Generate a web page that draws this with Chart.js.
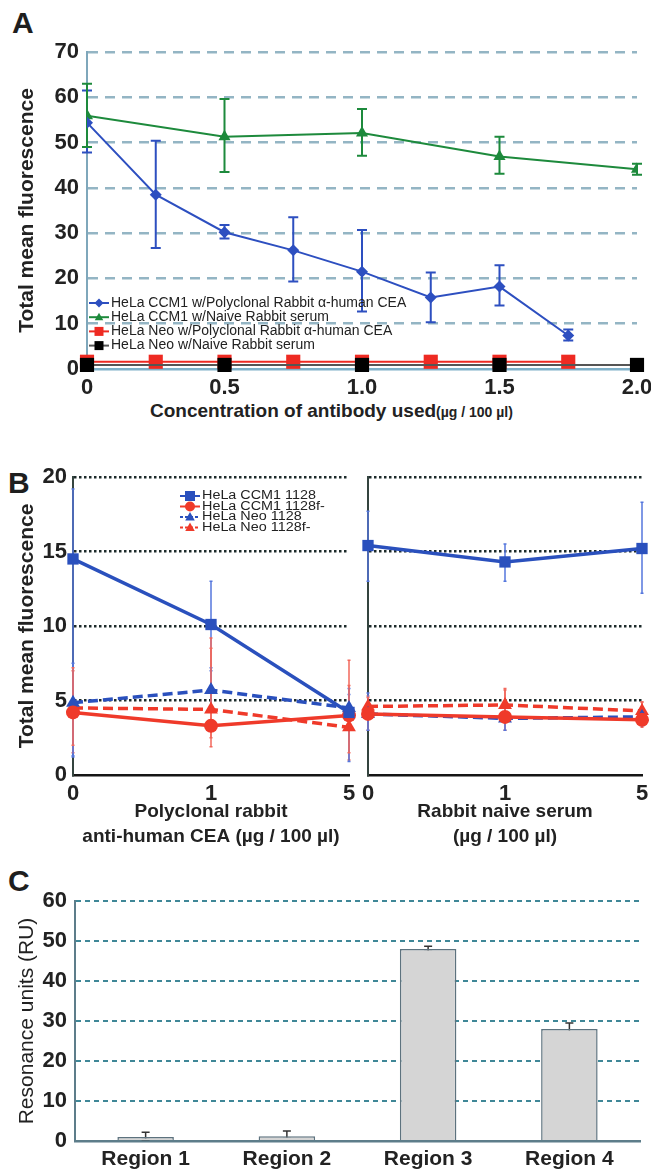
<!doctype html>
<html>
<head>
<meta charset="utf-8">
<style>
* { box-sizing: border-box; margin: 0; padding: 0; }
body { width: 651px; height: 1169px; position: relative; background: #fff; overflow: hidden;
       font-family: "Liberation Sans", Arial, sans-serif; color: #1e1e1e; }
.box { position: absolute; }
.tag { position: absolute; font-weight: bold; font-size: 30px; line-height: 1; }
#xa { position: absolute; left: 150px; top: 400px; font-weight: bold; font-size: 19px; white-space: nowrap; color: #222; }
#xa small { font-size: 14px; }
</style>
</head>
<body>
<div class="tag" style="left:12px;top:8px">A</div>
<div class="tag" style="left:8px;top:468px">B</div>
<div class="tag" style="left:8px;top:866px">C</div>

<div class="box" style="left:0;top:0;width:651px;height:400px"><canvas id="chartA"></canvas></div>
<div id="xa">Concentration of antibody used<small>(µg / 100 µl)</small></div>
<div class="box" style="left:0;top:440px;width:360px;height:420px"><canvas id="chartB1"></canvas></div>
<div class="box" style="left:360px;top:440px;width:291px;height:420px"><canvas id="chartB2"></canvas></div>
<div class="box" style="left:0;top:870px;width:651px;height:299px"><canvas id="chartC"></canvas></div>

<script src="https://cdn.jsdelivr.net/npm/chart.js"></script>
<script>
// ---- panel A ----
const a_labels = [
    'HeLa CCM1 w/Polyclonal Rabbit α-human CEA',
    'HeLa CCM1 w/Naive Rabbit serum',
    'HeLa Neo w/Polyclonal Rabbit α-human CEA',
    'HeLa Neo w/Naive Rabbit serum',
]
const a_x_quarter = [0, 0.25, 0.5, 0.75, 1.0, 1.25, 1.5, 1.75]
const a_x_half = [0, 0.5, 1.0, 1.5, 2.0]
const a_ccm1_pab = [54.4, 38.5, 30.2, 26.2, 21.5, 15.8, 18.2, 7.4]
const a_ccm1_pab_lo = [47.8, 26.7, 28.8, 19.3, 12.7, 10.3, 14.0, 6.3]
const a_ccm1_pab_hi = [61.5, 50.4, 31.8, 33.5, 30.7, 21.3, 22.9, 8.7]
const a_ccm1_naive = [55.9, 51.3, 52.1, 46.9, 44.1]
const a_ccm1_naive_lo = [49.0, 43.5, 47.1, 43.1, 42.9]
const a_ccm1_naive_hi = [63.0, 59.6, 57.4, 51.3, 45.3]
const a_neo_pab = [1.6, 1.6, 1.6, 1.6, 1.6, 1.6, 1.6, 1.6]
const a_neo_naive = [0.9, 0.9, 0.9, 0.9, 0.9]
const a_yticks = [0, 10, 20, 30, 40, 50, 60, 70]

// ---- panel B ----
const b_doses = ['0', '1', '5']
const b_labels = ['HeLa CCM1 1128', 'HeLa CCM1 1128f-', 'HeLa Neo 1128', 'HeLa Neo 1128f-']
// left: polyclonal anti-CEA, right: naive serum
const b_ccm1 = [14.5, 10.1, 4.2],      b_ccm1_n = [15.4, 14.3, 15.2]
const b_ccm1_lo = [1.3, 7.0, 3.2],     b_ccm1_n_lo = [13.0, 13.0, 12.2]
const b_ccm1_hi = [19.2, 13.0, 5.4],   b_ccm1_n_hi = [17.7, 15.5, 18.3]
const b_ccm1f = [4.2, 3.3, 4.0],       b_ccm1f_n = [4.1, 3.9, 3.7]
const b_ccm1f_lo = [1.5, 1.9, 1.0],    b_ccm1f_n_lo = [3.0, 3.0, 3.2]
const b_ccm1f_hi = [7.0, 8.5, 7.7],    b_ccm1f_n_hi = [5.3, 5.7, 4.9]
const b_neo = [4.85, 5.7, 4.5],        b_neo_n = [4.1, 3.8, 3.9]
const b_neo_lo = [1.2, 4.5, 0.9],      b_neo_n_lo = [3.0, 3.0, 3.3]
const b_neo_hi = [7.5, 7.2, 5.8],      b_neo_n_hi = [5.5, 4.6, 4.5]
const b_neof = [4.5, 4.4, 3.2],        b_neof_n = [4.6, 4.7, 4.3]
const b_neof_lo = [2.0, 2.5, 1.5],     b_neof_n_lo = [3.8, 3.5, 3.6]
const b_neof_hi = [7.2, 9.2, 6.0],     b_neof_n_hi = [5.2, 5.8, 4.9]

// ---- panel C ----
const c_regions = ['Region 1', 'Region 2', 'Region 3', 'Region 4']
const c_ru = [1.0, 1.2, 48.0, 28.0]
const c_ru_lo = [0.4, 0.6, 47.4, 26.6]
const c_ru_hi = [2.2, 2.5, 48.7, 29.5]

const FONT = '"Liberation Sans", Arial, sans-serif'
Chart.defaults.font.family = FONT
Chart.defaults.color = '#1e1e1e'

// vertical error bars read from dataset.errLo / dataset.errHi
const errorBars = {
    id: 'errorBars',
    beforeDatasetsDraw(chart) {
        const ctx = chart.ctx
        const ys = chart.scales.y
        chart.data.datasets.forEach((ds, i) => {
            if (!ds.errLo) return
            const meta = chart.getDatasetMeta(i)
            ctx.save()
            ctx.strokeStyle = ds.errColor || ds.borderColor
            ctx.lineWidth = ds.errWidth || 1.5
            const cap = ds.errCap || 4
            meta.data.forEach((el, j) => {
                const lo = ds.errLo[j], hi = ds.errHi[j]
                if (lo == null) return
                const x = el.x
                const y1 = ys.getPixelForValue(lo)
                const y2 = ys.getPixelForValue(hi)
                ctx.beginPath()
                ctx.moveTo(x, y1); ctx.lineTo(x, y2)
                ctx.moveTo(x - cap, y1); ctx.lineTo(x + cap, y1)
                ctx.moveTo(x - cap, y2); ctx.lineTo(x + cap, y2)
                ctx.stroke()
            })
            ctx.restore()
        })
    },
}

function marker(ctx, style, x, y, r) {
    ctx.beginPath()
    if (style === 'rect') {
        ctx.rect(x - r, y - r, 2 * r, 2 * r)
    } else if (style === 'rectRot') {
        ctx.moveTo(x, y - r); ctx.lineTo(x + r, y); ctx.lineTo(x, y + r); ctx.lineTo(x - r, y); ctx.closePath()
    } else if (style === 'triangle') {
        ctx.moveTo(x, y - r); ctx.lineTo(x + r * 0.95, y + r * 0.7); ctx.lineTo(x - r * 0.95, y + r * 0.7); ctx.closePath()
    } else {
        ctx.arc(x, y, r, 0, Math.PI * 2)
    }
    ctx.fill()
}

// little legend drawn inside the plot, like the original figure
const keyBox = {
    id: 'keyBox',
    afterDraw(chart, args, opts) {
        if (!opts.show) return
        const ctx = chart.ctx
        ctx.save()
        ctx.font = opts.font
        ctx.textBaseline = 'middle'
        chart.data.datasets.forEach((ds, i) => {
            if (!ds.label) return
            const y = opts.y + i * opts.step
            ctx.strokeStyle = ds.borderColor
            ctx.lineWidth = opts.lineWidth
            ctx.setLineDash(ds.borderDash ? opts.dash : [])
            ctx.beginPath()
            ctx.moveTo(opts.x, y)
            ctx.lineTo(opts.x + opts.len, y)
            ctx.stroke()
            ctx.setLineDash([])
            ctx.fillStyle = ds.pointBackgroundColor
            marker(ctx, ds.pointStyle, opts.x + opts.len / 2, y, opts.r)
            ctx.fillStyle = '#222'
            ctx.save()
            ctx.translate(opts.x + opts.len + 2, y)
            ctx.scale(opts.sx || 1, 1)
            ctx.fillText(ds.label, 0, 0)
            ctx.restore()
        })
        ctx.restore()
    },
}

Chart.register(errorBars, keyBox)

const tickFont = { family: FONT, size: 22, weight: 'bold' }
const yTitleFont = { family: FONT, size: 21, weight: 'bold' }

function fixW(w) { return scale => { scale.width = w } }
function fixH(h) { return scale => { scale.height = h } }

// ================= A =================
const BLUE_A = '#2d4fc0'
const GREEN_A = '#1d8a3c'
const RED_A = '#ee2a22'

new Chart(document.getElementById('chartA'), {
    type: 'line',
    data: {
        datasets: [
            {
                label: a_labels[0],
                data: a_x_quarter.map((x, i) => ({ x, y: a_ccm1_pab[i] })),
                errLo: a_ccm1_pab_lo, errHi: a_ccm1_pab_hi, errWidth: 2, errCap: 5,
                borderColor: BLUE_A, backgroundColor: BLUE_A, pointBackgroundColor: BLUE_A,
                borderWidth: 2, pointStyle: 'rectRot', pointRadius: 6, pointBorderWidth: 0, order: 0,
            },
            {
                label: a_labels[1],
                data: a_x_half.map((x, i) => ({ x, y: a_ccm1_naive[i] })),
                errLo: a_ccm1_naive_lo, errHi: a_ccm1_naive_hi, errWidth: 2, errCap: 5,
                borderColor: GREEN_A, backgroundColor: GREEN_A, pointBackgroundColor: GREEN_A,
                borderWidth: 2, pointStyle: 'triangle', pointRadius: 7, pointBorderWidth: 0, order: 0,
            },
            {
                label: a_labels[2],
                data: a_x_quarter.map((x, i) => ({ x, y: a_neo_pab[i] })),
                borderColor: RED_A, backgroundColor: RED_A, pointBackgroundColor: RED_A,
                borderWidth: 2, pointStyle: 'rect', pointRadius: 10, pointBorderWidth: 0, clip: false, order: 2,
            },
            {
                label: a_labels[3],
                data: a_x_half.map((x, i) => ({ x, y: a_neo_naive[i] })),
                borderColor: '#555', backgroundColor: '#000', pointBackgroundColor: '#000',
                borderWidth: 2, pointStyle: 'rect', pointRadius: 10, pointBorderWidth: 0, clip: false, order: 1,
            },
        ],
    },
    options: {
        animation: false,
        responsive: true,
        maintainAspectRatio: false,
        layout: { padding: { top: 52, right: 14, left: 0, bottom: 0 } },
        scales: {
            x: {
                type: 'linear', min: 0, max: 2,
                afterFit: fixH(31),
                afterBuildTicks: s => { s.ticks = a_x_half.map(v => ({ value: v })) },
                ticks: { font: tickFont, padding: -2, color: '#222',
                         callback: v => v === 0 ? '0' : v.toFixed(1) },
                grid: { display: false },
                border: { display: true, color: '#7fb0c8', width: 2.5 },
            },
            y: {
                min: 0, max: 70,
                afterFit: fixW(87),
                afterBuildTicks: s => { s.ticks = a_yticks.map(v => ({ value: v })) },
                ticks: { font: tickFont, padding: 8, color: '#222' },
                grid: { color: c => c.tick.value === 0 ? 'rgba(0,0,0,0)' : '#94b5c4',
                        lineWidth: 2.5, drawTicks: false },
                border: { display: true, color: '#7fa7bb', width: 2, dash: [10, 7] },
                title: { display: true, text: 'Total mean fluorescence', font: yTitleFont,
                         padding: { top: 15, bottom: 0 }, color: '#222' },
            },
        },
        plugins: {
            legend: { display: false },
            tooltip: { enabled: false },
            keyBox: { show: true, x: 89, y: 303, step: 14.2, len: 20, r: 4.5, lineWidth: 2,
                      dash: [4, 2], font: '14px ' + FONT, sx: 1 },
        },
    },
})

// ================= B =================
const BLUE_B = '#2a50bd'
const RED_B = '#ef3a2a'
const BLUE_ERR = '#5577dd'
const RED_ERR = '#f2685c'

function bSets(vals) {
    return [
        { label: b_labels[0], data: vals[0], errLo: vals[1], errHi: vals[2],
          borderColor: BLUE_B, pointBackgroundColor: BLUE_B, backgroundColor: BLUE_B, errColor: BLUE_ERR,
          pointStyle: 'rect', pointRadius: 8 },
        { label: b_labels[1], data: vals[3], errLo: vals[4], errHi: vals[5],
          borderColor: RED_B, pointBackgroundColor: RED_B, backgroundColor: RED_B, errColor: RED_ERR,
          pointStyle: 'circle', pointRadius: 7 },
        { label: b_labels[2], data: vals[6], errLo: vals[7], errHi: vals[8], borderDash: [10, 5],
          borderColor: BLUE_B, pointBackgroundColor: BLUE_B, backgroundColor: BLUE_B, errColor: BLUE_ERR,
          pointStyle: 'triangle', pointRadius: 8 },
        { label: b_labels[3], data: vals[9], errLo: vals[10], errHi: vals[11], borderDash: [10, 5],
          borderColor: RED_B, pointBackgroundColor: RED_B, backgroundColor: RED_B, errColor: RED_ERR,
          pointStyle: 'triangle', pointRadius: 8 },
    ].map(d => Object.assign(d, { borderWidth: 3.5, pointBorderWidth: 0, errWidth: 1.5, errCap: 1.5, clip: false }))
}

const bGrid = { color: c => c.tick.value === 0 ? 'rgba(0,0,0,0)' : '#1d2b2b', lineWidth: 2.5, drawTicks: false }

function bOptions(left, xTitle, padRight) {
    return {
        animation: false,
        responsive: true,
        maintainAspectRatio: false,
        layout: { padding: { top: 37, right: padRight, left: 0, bottom: 0 } },
        scales: {
            x: {
                type: 'category', offset: false,
                afterFit: fixH(85),
                ticks: { font: tickFont, padding: -2, color: '#222' },
                grid: { display: false },
                border: { display: true, color: '#151515', width: 2.5 },
                title: { display: true, text: xTitle, color: '#222',
                         font: { family: FONT, size: 19, weight: 'bold', lineHeight: 1.3 },
                         padding: { top: 0, bottom: 11 } },
            },
            y: {
                min: 0, max: 20,
                afterFit: fixW(left ? 73 : 7),
                ticks: { display: left, stepSize: 5, font: tickFont, padding: 6, color: '#222' },
                grid: bGrid,
                border: { display: true, color: '#34443f', width: 2, dash: [2.5, 2.5] },
                title: { display: left, text: 'Total mean fluorescence', font: yTitleFont,
                         padding: { top: 15, bottom: 0 }, color: '#222' },
            },
        },
        plugins: {
            legend: { display: false },
            tooltip: { enabled: false },
            keyBox: { show: left, x: 180, y: 56, step: 10.5, len: 20, r: 5, lineWidth: 2,
                      dash: [3, 2], font: '12.5px ' + FONT, sx: 1.15 },
        },
    }
}

new Chart(document.getElementById('chartB1'), {
    type: 'line',
    data: {
        labels: b_doses,
        datasets: bSets([b_ccm1, b_ccm1_lo, b_ccm1_hi, b_ccm1f, b_ccm1f_lo, b_ccm1f_hi,
                         b_neo, b_neo_lo, b_neo_hi, b_neof, b_neof_lo, b_neof_hi]),
    },
    options: bOptions(true, ['Polyclonal rabbit', 'anti-human CEA (µg / 100 µl)'], 11),
})

new Chart(document.getElementById('chartB2'), {
    type: 'line',
    data: {
        labels: b_doses,
        datasets: bSets([b_ccm1_n, b_ccm1_n_lo, b_ccm1_n_hi, b_ccm1f_n, b_ccm1f_n_lo, b_ccm1f_n_hi,
                         b_neo_n, b_neo_n_lo, b_neo_n_hi, b_neof_n, b_neof_n_lo, b_neof_n_hi]),
    },
    options: bOptions(false, ['Rabbit naive serum', '(µg / 100 µl)'], 9),
})

// ================= C =================
new Chart(document.getElementById('chartC'), {
    type: 'bar',
    data: {
        labels: c_regions,
        datasets: [{
            data: c_ru, errLo: c_ru_lo, errHi: c_ru_hi,
            errColor: '#333', errWidth: 1.5, errCap: 4,
            backgroundColor: '#d5d5d5', borderColor: '#5d727e', borderWidth: 1.5,
            categoryPercentage: 1, barPercentage: 0.4,
        }],
    },
    options: {
        animation: false,
        responsive: true,
        maintainAspectRatio: false,
        layout: { padding: { top: 31, right: 11, left: 0, bottom: 0 } },
        scales: {
            x: {
                afterFit: fixH(28),
                ticks: { font: { family: FONT, size: 21, weight: 'bold' }, padding: -2, color: '#222' },
                grid: { display: false },
                border: { display: true, color: '#5d7d8a', width: 2.5 },
            },
            y: {
                min: 0, max: 60,
                afterFit: fixW(75),
                ticks: { stepSize: 10, font: tickFont, padding: 8, color: '#222' },
                grid: { color: c => c.tick.value === 0 ? 'rgba(0,0,0,0)' : '#3f8797', lineWidth: 2, drawTicks: false },
                border: { display: true, color: '#5d7d8a', width: 2, dash: [5, 4] },
                title: { display: true, text: 'Resonance units (RU)', color: '#222',
                         font: { family: FONT, size: 21 }, padding: { top: 15, bottom: 0 } },
            },
        },
        plugins: { legend: { display: false }, tooltip: { enabled: false } },
    },
})
</script>
</body>
</html>
